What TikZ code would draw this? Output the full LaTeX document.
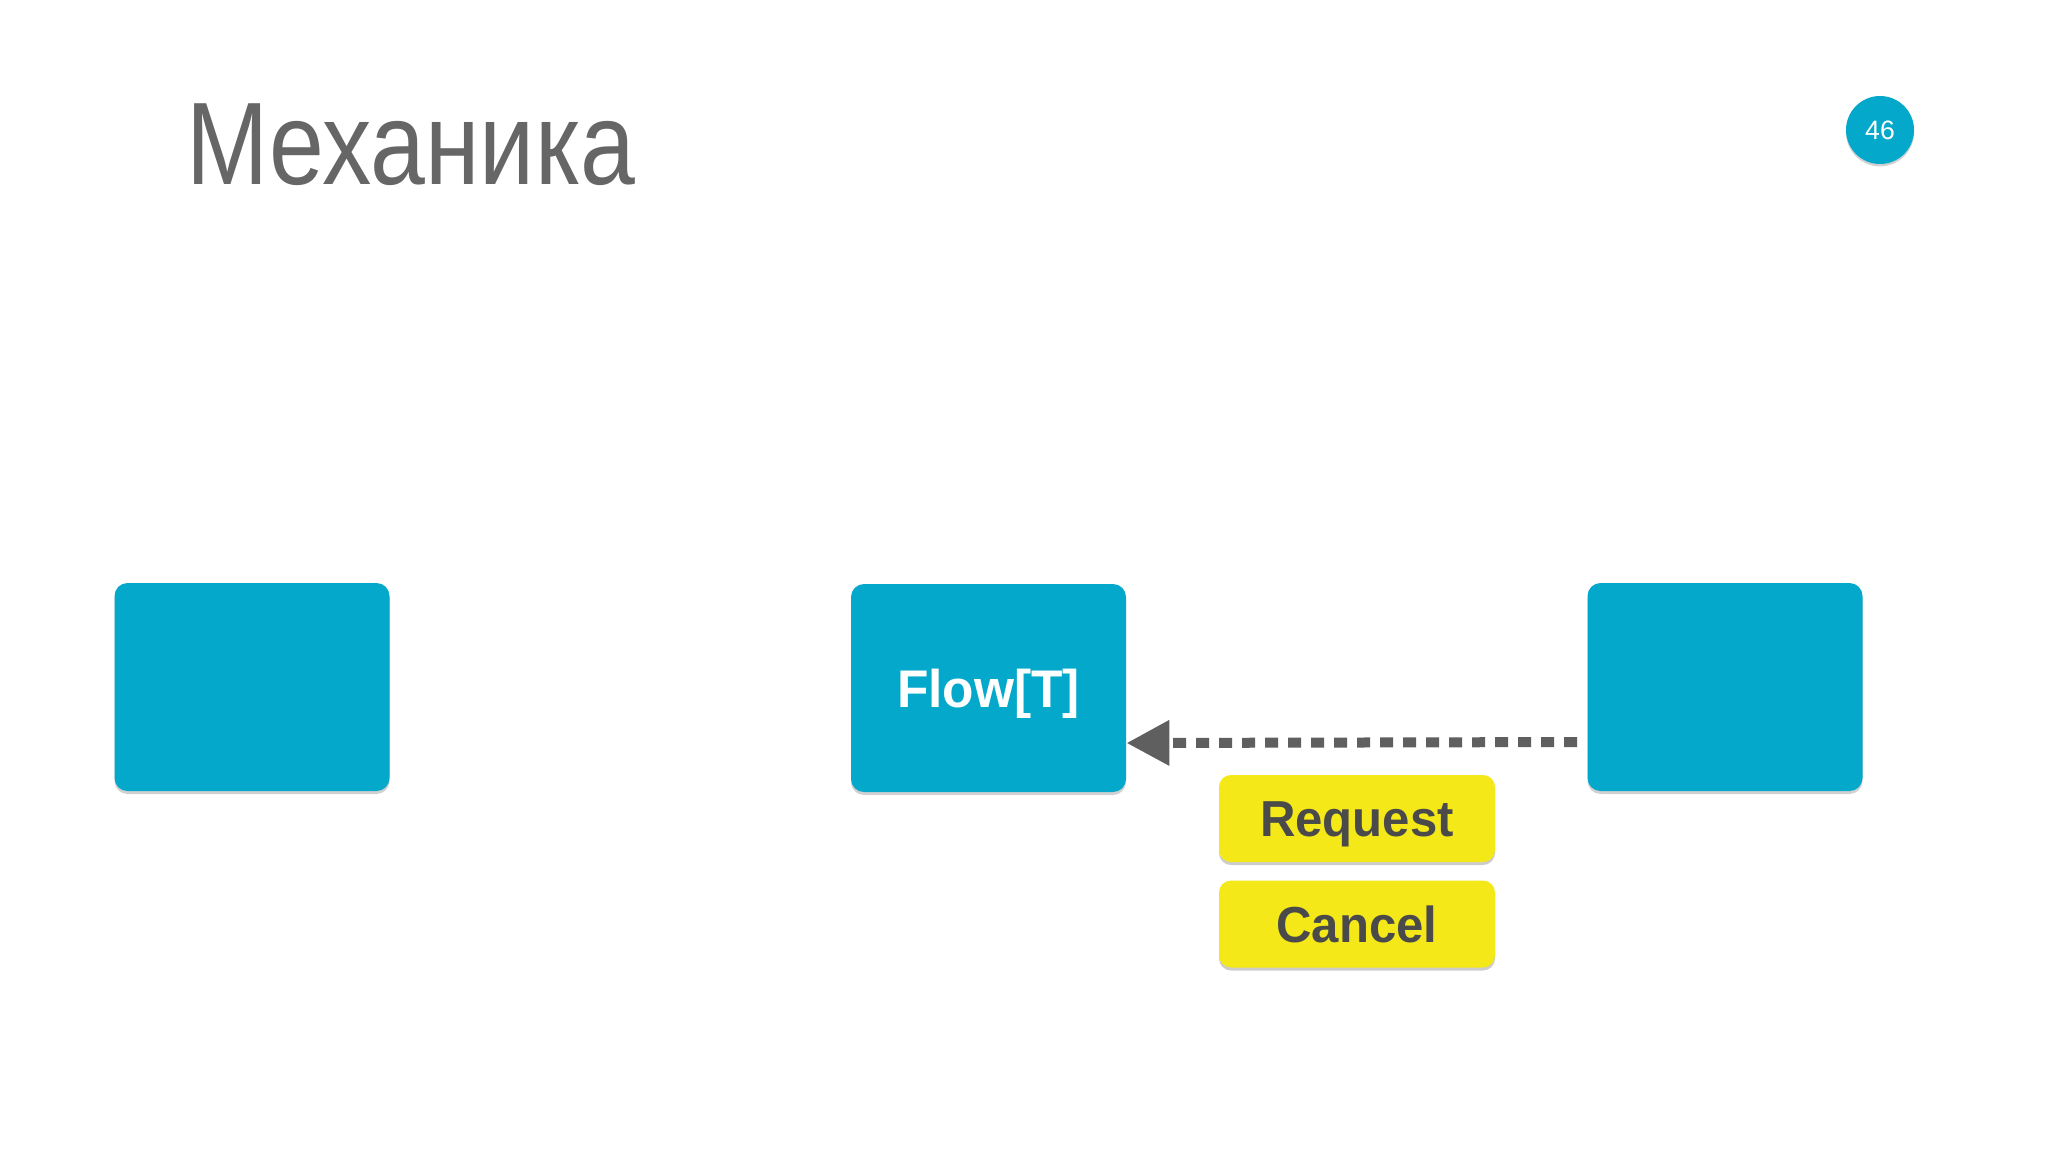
\documentclass[tikz,border=0pt]{standalone}
\usepackage{fontspec}
\setmainfont{Liberation Sans}
\newfontfamily\titlefont[FakeStretch=0.84]{Liberation Sans}
\newfontfamily\boldcond[FakeStretch=0.97]{Liberation Sans}
\usetikzlibrary{arrows.meta,shadows}
\definecolor{boxblue}{HTML}{03A8CB}
\definecolor{tagyellow}{HTML}{F4E819}
\definecolor{tagtext}{HTML}{4A4A4A}
\definecolor{arrowgray}{HTML}{5F5F5F}
\definecolor{titlegray}{HTML}{666666}
\tikzset{
  bluebox/.style={fill=boxblue, rounded corners=6.5pt, minimum width=137.5pt, minimum height=104pt, inner sep=0pt,
    drop shadow={shadow xshift=0pt, shadow yshift=-1.5pt, opacity=0.18, fill=black}},
  tagbox/.style={fill=tagyellow, rounded corners=6pt, minimum width=138pt, minimum height=43.5pt, inner sep=0pt,
    text=tagtext, font=\boldcond\fontsize{25.3}{28}\selectfont\bfseries, text height=18.1pt, text depth=0pt,
    drop shadow={shadow xshift=0pt, shadow yshift=-1.5pt, opacity=0.2, fill=black}},
  arrowline/.style={draw=arrowgray, line width=5pt, dash pattern=on 6.5pt off 5pt,
    -{Triangle[length=21.5pt,width=21.5pt,fill=arrowgray]}},
}
\begin{document}
\begin{tikzpicture}[x=0.5pt,y=-0.5pt]
\path[use as bounding box, fill=white] (0,0) rectangle (2048,1152);
\node[anchor=base west, text=titlegray, font=\titlefont\fontsize{58.7}{66}\selectfont, inner sep=0pt] (title) at (186,184) {Механика};
\node[circle, fill=boxblue, minimum size=34pt, inner sep=0pt, text=white, font=\fontsize{13.3}{15}\selectfont,
  drop shadow={shadow xshift=0pt, shadow yshift=-1.2pt, opacity=0.18, fill=black}] (page) at (1880,130) {46};
\node[bluebox] (left) at (252,687) {};
\node[bluebox, text=white, font=\boldcond\fontsize{26.5}{30}\selectfont\bfseries, text height=19pt, text depth=0pt] (flow) at (988.5,688) {Flow[T]};
\node[bluebox] (right) at (1725,687) {};
\node[tagbox] (req) at (1357,818.5) {Request};
\node[tagbox] (cancel) at (1357,924) {Cancel};
\draw[arrowline, shorten <=5pt] ([yshift=-27.5pt]right.west) -- ([yshift=-27.5pt]flow.east);
\end{tikzpicture}
\end{document}
